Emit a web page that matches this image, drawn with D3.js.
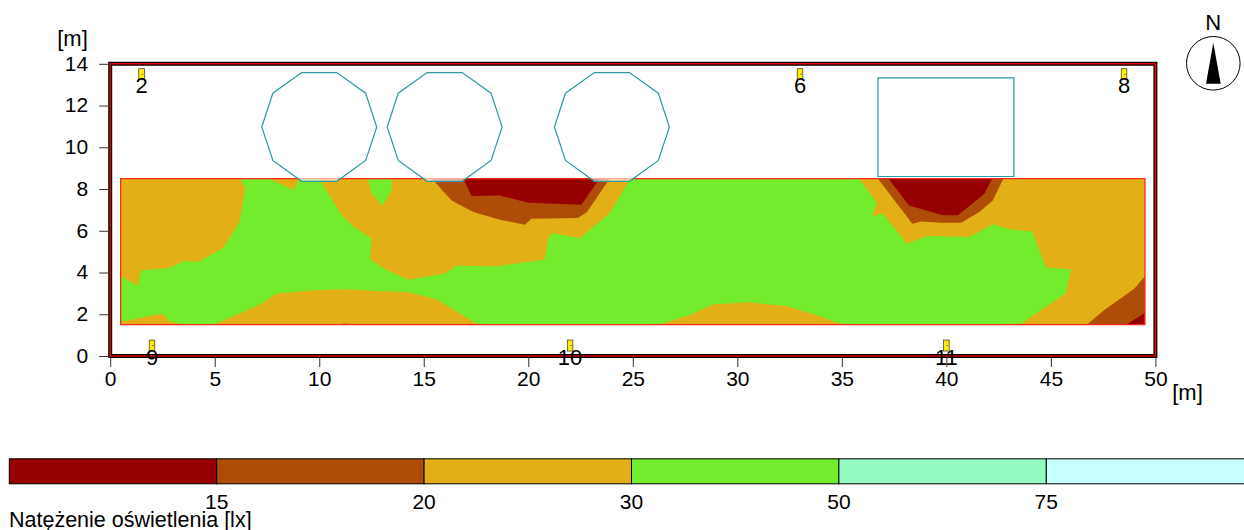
<!DOCTYPE html>
<html>
<head>
<meta charset="utf-8">
<script src="https://cdn.jsdelivr.net/npm/d3@7"></script>
<style>
    html, body { margin: 0; padding: 0; background: #fff; overflow: hidden; }
    svg { display: block; }
    text { font-family: "Liberation Sans", sans-serif; font-size: 21px; fill: #000; }
</style>
</head>
<body>
<svg id="chart" width="1244" height="530"></svg>
<script>
// axis ticks [m]
const xTicks = [0, 5, 10, 15, 20, 25, 30, 35, 40, 45, 50];
const yTicks = [0, 2, 4, 6, 8, 10, 12, 14];

// legend
const levelLabels = ["15", "20", "30", "50", "75"];
const levelColors = ["#960000", "#ae4d07", "#e2b016", "#72ec2c", "#93fbc0", "#c8ffff"];
const legendTitle = "Natężenie oświetlenia [lx]";

// calculation area [m]
const areaOutline = [[0.5, 1.5], [49.5, 1.5], [49.5, 8.5], [0.5, 8.5]];

// isolux regions [m], level is index into levelColors
const orangeLeft = [[0.5, 8.5], [6.21, 8.5], [6.47, 8.01], [6.18, 6.42], [5.42, 5.19], [4.24, 4.52], [3.54, 4.55], [2.79, 4.2], [1.47, 4.11], [1.32, 3.38], [0.5, 3.82]];
const orangeTopSmall = [[7.57, 8.5], [8.76, 7.96], [9.08, 8.5]];
const orangeMiddle = [[9.99, 8.5], [11.03, 6.82], [11.63, 6.21], [12.51, 5.62], [12.43, 4.65], [13.14, 4.16], [14.26, 3.65], [16.01, 3.95], [16.54, 4.33], [18.48, 4.3], [20.79, 4.62], [20.95, 5.62], [21.16, 5.89], [22.46, 5.64], [23.9, 6.85], [24.89, 8.5]];
const greenIsland = [[12.32, 8.5], [12.51, 7.77], [13.03, 7.21], [13.46, 7.9], [13.46, 8.5]];
const orangeBottomLeft = [[0.5, 1.5], [0.5, 1.64], [2.23, 1.99], [2.58, 1.99], [2.79, 1.69], [3.5, 1.5], [4.94, 1.5], [7.17, 2.47], [7.97, 2.99], [9.72, 3.15], [11.31, 3.2], [12.75, 3.11], [14.26, 3.07], [15.62, 2.71], [16.73, 2.04], [17.61, 1.5]];
const orangeBottomMid = [[26.21, 1.5], [27.72, 1.96], [28.84, 2.47], [30.43, 2.58], [32.34, 2.4], [33.78, 1.96], [35.05, 1.5]];
const orangeRight = [[35.82, 8.5], [36.68, 7.34], [36.45, 6.7], [36.95, 6.83], [38.11, 5.38], [39.11, 5.75], [41.11, 5.7], [42.22, 6.31], [43.02, 6.07], [44.1, 5.96], [44.77, 4.24], [45.97, 4.14], [45.7, 2.99], [43.5, 1.5], [49.5, 1.5], [49.5, 8.5]];
const brownCentre = [[15.38, 8.5], [16.33, 7.45], [17.37, 6.9], [18.64, 6.53], [19.84, 6.29], [20.15, 6.58], [22.38, 6.61], [22.81, 6.9], [23.9, 8.5]];
const brownRight = [[36.72, 8.5], [38.37, 6.34], [38.8, 6.45], [39.75, 6.39], [40.71, 6.39], [41.58, 6.9], [42.22, 7.45], [42.73, 8.5]];
const brownCorner = [[46.71, 1.5], [47.56, 2.2], [49, 3.23], [49.5, 3.82], [49.5, 1.5]];
const brownSliver = [[10.68, 1.5], [11.2, 1.56], [12.11, 1.5]];
const redCentre = [[16.89, 8.5], [17.29, 7.66], [18.64, 7.69], [19.99, 7.34], [22.54, 7.25], [23.42, 8.5]];
const redRight = [[37.23, 8.5], [38.21, 7.21], [39.83, 6.74], [40.55, 6.74], [41.82, 7.77], [42.19, 8.5]];
const redCorner = [[48.6, 1.5], [49.5, 2.07], [49.5, 1.5]];

const isoRegions = [
    { level: 3, points: areaOutline },
    { level: 2, points: orangeLeft },
    { level: 2, points: orangeTopSmall },
    { level: 2, points: orangeMiddle },
    { level: 3, points: greenIsland },
    { level: 2, points: orangeBottomLeft },
    { level: 2, points: orangeBottomMid },
    { level: 2, points: orangeRight },
    { level: 1, points: brownCentre },
    { level: 1, points: brownRight },
    { level: 1, points: brownCorner },
    { level: 1, points: brownSliver },
    { level: 0, points: redCentre },
    { level: 0, points: redRight },
    { level: 0, points: redCorner }
];

// objects in the room [m]
const decagonCentresX = [10, 16, 24];
const decagonCentreY = 10.97;
const decagonShape = [[-0.84, 2.61], [0.84, 2.61], [2.22, 1.62], [2.75, 0], [2.22, -1.6], [0.84, -2.6], [-0.84, -2.6], [-2.22, -1.6], [-2.75, 0], [-2.22, 1.62]];
const boxOutline = [[36.73, 13.33], [43.23, 13.33], [43.23, 8.6], [36.73, 8.6]];

// measuring points
const sensorNames = ["2", "6", "8", "9", "10", "11"];
const sensorX = [1.5, 33, 48.5, 2, 22, 40];
const sensorY = [13.5, 13.5, 13.5, 0.5, 0.5, 0.5];

const svg = d3.select("#chart");

const xScale = d3.scaleLinear().domain([0, 50]).range([110.2, 1155.4]);
const yScale = d3.scaleLinear().domain([0, 14]).range([356, 63.8]);

const toPath = pts => "M" + pts.map(p => xScale(p[0]) + "," + yScale(p[1])).join("L") + "Z";

// isolux fills
svg.append("g").selectAll("path")
    .data(isoRegions)
    .enter().append("path")
    .attr("d", d => toPath(d.points))
    .attr("fill", d => levelColors[d.level]);

svg.append("path")
    .attr("d", toPath(areaOutline))
    .attr("fill", "none")
    .attr("stroke", "#ff2a1a")
    .attr("stroke-width", 1.3);

// round objects and the box
svg.append("g").selectAll("path")
    .data(decagonCentresX)
    .enter().append("path")
    .attr("d", cx => toPath(decagonShape.map(p => [cx + p[0], decagonCentreY + p[1]])))
    .attr("fill", "#fff")
    .attr("fill-opacity", 0.6)
    .attr("stroke", "#2a9aa0")
    .attr("stroke-width", 1.2);

svg.append("path")
    .attr("d", toPath(boxOutline))
    .attr("fill", "#fff")
    .attr("fill-opacity", 0.6)
    .attr("stroke", "#2a9aa0")
    .attr("stroke-width", 1.2);

// frame: black with a red line through it
const frame = [[0, 0], [50, 0], [50, 14], [0, 14]];
svg.append("path").attr("d", toPath(frame)).attr("fill", "none").attr("stroke", "#000").attr("stroke-width", 4);
svg.append("path").attr("d", toPath(frame)).attr("fill", "none").attr("stroke", "#e00000").attr("stroke-width", 1.6);

// axes
const xAxis = svg.append("g")
    .attr("transform", "translate(0,356)")
    .call(d3.axisBottom(xScale).tickValues(xTicks).tickSize(11).tickSizeOuter(0).tickPadding(4));
const yAxis = svg.append("g")
    .attr("transform", "translate(110.2,0)")
    .call(d3.axisLeft(yScale).tickValues(yTicks).tickSize(11).tickSizeOuter(0).tickPadding(11));

[xAxis, yAxis].forEach(a => {
    a.select(".domain").remove();
    a.selectAll("line").attr("stroke", "#333");
    a.selectAll("text").style("font-size", "21px").style("font-family", "'Liberation Sans', sans-serif").attr("fill", "#000");
});
yAxis.selectAll("text").attr("dy", "0.3em");

svg.append("text").attr("x", 1187.5).attr("y", 400).attr("text-anchor", "middle").style("font-size", "22px").text("[m]");
svg.append("text").attr("x", 72.5).attr("y", 46).attr("text-anchor", "middle").style("font-size", "22px").text("[m]");

// measuring points
const sensors = svg.append("g").selectAll("g")
    .data(sensorNames)
    .enter().append("g")
    .attr("transform", (d, i) => "translate(" + xScale(sensorX[i]) + "," + yScale(sensorY[i]) + ")");

sensors.append("rect")
    .attr("x", -2.8).attr("y", -5.5)
    .attr("width", 5.6).attr("height", 11)
    .attr("fill", "#ffee00")
    .attr("stroke", "#333")
    .attr("stroke-width", 0.7);

sensors.append("line")
    .attr("x1", 0).attr("x2", 2).attr("y1", 0).attr("y2", 0)
    .attr("stroke", "#666")
    .attr("stroke-width", 0.8);

sensors.append("text")
    .attr("y", 19)
    .attr("text-anchor", "middle")
    .style("font-size", "22px")
    .text(d => d);

// north arrow
svg.append("text").attr("x", 1213.3).attr("y", 30).attr("text-anchor", "middle").style("font-size", "22px").text("N");
svg.append("circle").attr("cx", 1213.3).attr("cy", 63.3).attr("r", 26.8).attr("fill", "none").attr("stroke", "#000");
svg.append("path").attr("d", "M1213.3,42.7L1206,83.7L1220.7,83.7Z").attr("fill", "#000");

// legend bar
const legendScale = d3.scaleLinear().domain([0, levelColors.length]).range([9.3, 9.3 + 207.4 * levelColors.length]);

svg.append("g").selectAll("rect")
    .data(levelColors)
    .enter().append("rect")
    .attr("x", (d, i) => legendScale(i))
    .attr("y", 458.8)
    .attr("width", legendScale(1) - legendScale(0))
    .attr("height", 25)
    .attr("fill", d => d)
    .attr("stroke", "#000")
    .attr("stroke-width", 1);

svg.append("g").selectAll("text")
    .data(levelLabels)
    .enter().append("text")
    .attr("x", (d, i) => legendScale(i + 1))
    .attr("y", 509)
    .attr("text-anchor", "middle")
    .text(d => d);

svg.append("text").attr("x", 9).attr("y", 526.5).style("font-size", "21.5px").text(legendTitle);
</script>
</body>
</html>
